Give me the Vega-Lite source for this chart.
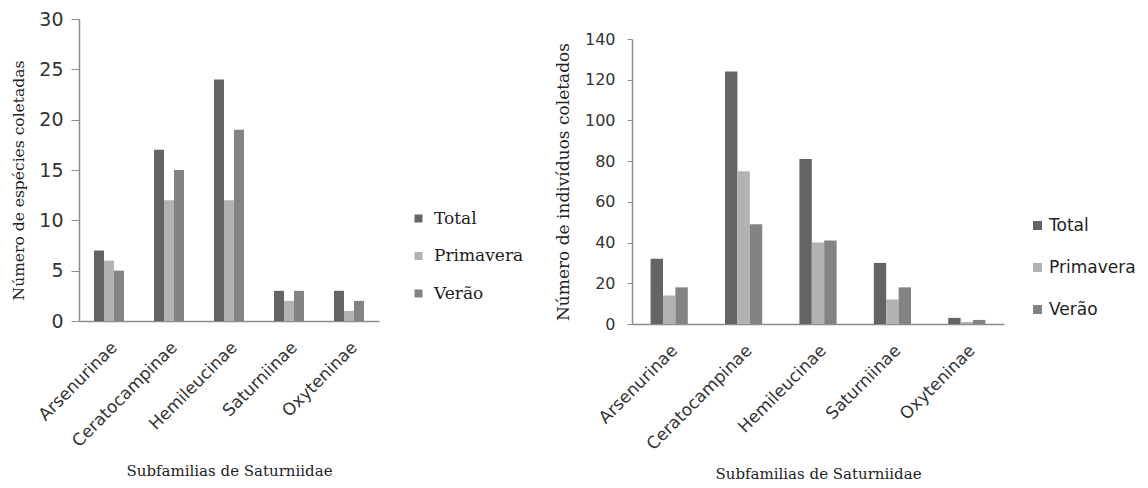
{
  "$schema": "https://vega.github.io/schema/vega-lite/v6.json",
  "background": "white",
  "padding": {"left": 11, "top": 10, "right": 0, "bottom": 0},
  "spacing": 30,
  "datasets": {
    "especies": [
      {"subfamilia": "Arsenurinae", "serie": "Total", "valor": 7},
      {"subfamilia": "Arsenurinae", "serie": "Primavera", "valor": 6},
      {"subfamilia": "Arsenurinae", "serie": "Verão", "valor": 5},
      {"subfamilia": "Ceratocampinae", "serie": "Total", "valor": 17},
      {"subfamilia": "Ceratocampinae", "serie": "Primavera", "valor": 12},
      {"subfamilia": "Ceratocampinae", "serie": "Verão", "valor": 15},
      {"subfamilia": "Hemileucinae", "serie": "Total", "valor": 24},
      {"subfamilia": "Hemileucinae", "serie": "Primavera", "valor": 12},
      {"subfamilia": "Hemileucinae", "serie": "Verão", "valor": 19},
      {"subfamilia": "Saturniinae", "serie": "Total", "valor": 3},
      {"subfamilia": "Saturniinae", "serie": "Primavera", "valor": 2},
      {"subfamilia": "Saturniinae", "serie": "Verão", "valor": 3},
      {"subfamilia": "Oxyteninae", "serie": "Total", "valor": 3},
      {"subfamilia": "Oxyteninae", "serie": "Primavera", "valor": 1},
      {"subfamilia": "Oxyteninae", "serie": "Verão", "valor": 2}
    ],
    "individuos": [
      {"subfamilia": "Arsenurinae", "serie": "Total", "valor": 32},
      {"subfamilia": "Arsenurinae", "serie": "Primavera", "valor": 14},
      {"subfamilia": "Arsenurinae", "serie": "Verão", "valor": 18},
      {"subfamilia": "Ceratocampinae", "serie": "Total", "valor": 124},
      {"subfamilia": "Ceratocampinae", "serie": "Primavera", "valor": 75},
      {"subfamilia": "Ceratocampinae", "serie": "Verão", "valor": 49},
      {"subfamilia": "Hemileucinae", "serie": "Total", "valor": 81},
      {"subfamilia": "Hemileucinae", "serie": "Primavera", "valor": 40},
      {"subfamilia": "Hemileucinae", "serie": "Verão", "valor": 41},
      {"subfamilia": "Saturniinae", "serie": "Total", "valor": 30},
      {"subfamilia": "Saturniinae", "serie": "Primavera", "valor": 12},
      {"subfamilia": "Saturniinae", "serie": "Verão", "valor": 18},
      {"subfamilia": "Oxyteninae", "serie": "Total", "valor": 3},
      {"subfamilia": "Oxyteninae", "serie": "Primavera", "valor": 1},
      {"subfamilia": "Oxyteninae", "serie": "Verão", "valor": 2}
    ]
  },
  "hconcat": [
    {
      "data": {"name": "especies"},
      "width": 300,
      "height": 302,
      "mark": {"type": "bar"},
      "encoding": {
        "x": {
          "field": "subfamilia", "type": "nominal",
          "sort": ["Arsenurinae", "Ceratocampinae", "Hemileucinae", "Saturniinae", "Oxyteninae"],
          "scale": {"paddingInner": 0.5, "paddingOuter": 0.25},
          "axis": {
            "title": "Subfamilias de Saturniidae",
            "titleFont": "DejaVu Serif", "titleFontSize": 15, "titleFontWeight": "normal", "titleColor": "#222222",
            "titlePadding": 14,
            "labelAngle": -45, "labelFont": "DejaVu Sans", "labelFontSize": 17, "labelColor": "#333333",
            "labelPadding": 18,
            "ticks": false, "domainColor": "#8c8c8c", "domainWidth": 1.5
          }
        },
        "xOffset": {"field": "serie", "type": "nominal", "sort": ["Total", "Primavera", "Verão"], "scale": {"paddingInner": 0}},
        "y": {
          "field": "valor", "type": "quantitative",
          "scale": {"domain": [0, 30]},
          "axis": {
            "title": "Número de espécies  coletadas",
            "values": [0, 5, 10, 15, 20, 25, 30],
            "grid": false,
            "titleFont": "DejaVu Serif", "titleFontSize": 15.5, "titleFontWeight": "normal", "titleColor": "#222222",
            "titlePadding": 12, "titleY": 161,
            "labelFont": "DejaVu Sans", "labelFontSize": 19, "labelColor": "#333333",
            "tickSize": 8, "labelPadding": 8, "tickColor": "#8c8c8c", "domainColor": "#8c8c8c", "domainWidth": 1.5
          }
        },
        "color": {
          "field": "serie", "type": "nominal",
          "scale": {"domain": ["Total", "Primavera", "Verão"], "range": ["#646464", "#b2b2b2", "#838383"]},
          "legend": {
            "title": null, "orient": "none", "legendX": 331, "legendY": 191, "padding": 0,
            "symbolType": "square", "symbolSize": 64, "symbolStrokeWidth": 0,
            "labelFont": "DejaVu Serif", "labelFontSize": 17, "labelColor": "#222222", "labelOffset": 7,
            "rowPadding": 19.5
          }
        }
      }
    },
    {
      "spacing": 0,
      "vconcat": [
        {
          "data": {"values": [{}]},
          "width": 372,
          "height": 12,
          "mark": {"type": "text"},
          "encoding": {"text": {"value": ""}}
        },
        {
          "data": {"name": "individuos"},
          "width": 372,
          "height": 285,
          "mark": {"type": "bar"},
          "encoding": {
            "x": {
              "field": "subfamilia", "type": "nominal",
              "sort": ["Arsenurinae", "Ceratocampinae", "Hemileucinae", "Saturniinae", "Oxyteninae"],
              "scale": {"paddingInner": 0.5, "paddingOuter": 0.25},
              "axis": {
                "title": "Subfamilias de Saturniidae",
                "titleFont": "DejaVu Serif", "titleFontSize": 15, "titleFontWeight": "normal", "titleColor": "#222222",
                "titlePadding": 14,
                "labelAngle": -45, "labelFont": "DejaVu Sans", "labelFontSize": 17, "labelColor": "#333333",
                "labelPadding": 18,
                "ticks": false, "domainColor": "#8c8c8c", "domainWidth": 1.5
              }
            },
            "xOffset": {"field": "serie", "type": "nominal", "sort": ["Total", "Primavera", "Verão"], "scale": {"paddingInner": 0}},
            "y": {
              "field": "valor", "type": "quantitative",
              "scale": {"domain": [0, 140]},
              "axis": {
                "title": "Número de indivíduos coletados",
                "values": [0, 20, 40, 60, 80, 100, 120, 140],
                "grid": false,
                "titleFont": "DejaVu Serif", "titleFontSize": 17, "titleFontWeight": "normal", "titleColor": "#222222",
                "titlePadding": 12,
                "labelFont": "DejaVu Sans", "labelFontSize": 16, "labelColor": "#333333",
                "tickSize": 5, "labelPadding": 12, "tickColor": "#8c8c8c", "domainColor": "#8c8c8c", "domainWidth": 1.5
              }
            },
            "color": {
              "field": "serie", "type": "nominal",
              "scale": {"domain": ["Total", "Primavera", "Verão"], "range": ["#646464", "#b2b2b2", "#838383"]},
              "legend": {
                "title": null, "orient": "none", "legendX": 397, "legendY": 198, "padding": 0,
                "symbolType": "square", "symbolSize": 81, "symbolStrokeWidth": 0,
                "labelFont": "DejaVu Sans", "labelFontSize": 17, "labelColor": "#222222", "labelOffset": 3,
                "rowPadding": 24
              }
            }
          }
        }
      ]
    }
  ],
  "resolve": {"scale": {"color": "independent", "y": "independent", "x": "independent", "xOffset": "independent"}, "legend": {"color": "independent"}},
  "config": {"view": {"stroke": null}}
}
